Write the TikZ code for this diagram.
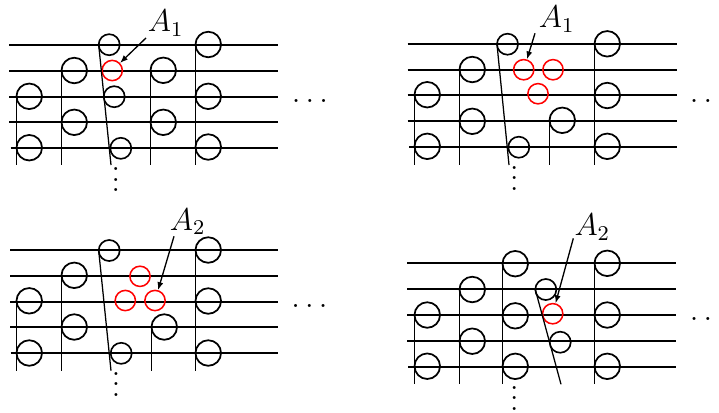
\documentclass[tikz,border=0pt]{standalone}
\usetikzlibrary{arrows.meta,calc}
\newcommand{\myvdots}{\vbox{\baselineskip4pt\lineskiplimit0pt\hbox{.}\hbox{.}\hbox{.}}}
\begin{document}
\begin{tikzpicture}[x=0.38pt,y=-0.38pt,
  staff/.style={line width=0.76pt},
  stem/.style={line width=0.5pt},
  slant/.style={line width=0.48pt},
  big/.style={circle,draw,line width=0.66pt,minimum size=9.7pt,inner sep=0pt,outer sep=0pt},
  small/.style={circle,draw,line width=0.62pt,minimum size=8pt,inner sep=0pt,outer sep=0pt},
  hit/.style={circle,draw=red,line width=0.58pt,minimum size=7.7pt,inner sep=0pt},
  lab/.style={inner sep=0pt,font=\fontsize{11.7}{14}\selectfont},
  dotsnode/.style={inner sep=0pt,font=\fontsize{11.7}{14}\selectfont},
  arr/.style={-{Latex[length=3pt,width=2.3pt]},line width=0.5pt}]
\useasboundingbox (0,0) rectangle (719,412);

% ---------------- Panel 1 ----------------
\foreach \k in {0,1,2,3} \draw[staff] (9,{45+25.8*\k}) -- (278,{45+25.8*\k});
\draw[staff] (10.7,148.2) -- (278,148.2);
\node[big] (p1a1) at (29.26,96.3) {};
\node[big] (p1a2) at (29.26,147.7) {};
\node[big] (p1b1) at (74.26,70.5) {};
\node[big] (p1b2) at (74.26,122.3) {};
\node[small] (p1c1) at (109.2,44.7) {};
\node[hit] (p1r1) at (112.2,70.5) {};
\node[small] (p1c2) at (114.2,96.7) {};
\node[small] (p1c3) at (120.8,148.3) {};
\node[big] (p1d1) at (163.26,70.3) {};
\node[big] (p1d2) at (163.26,122.3) {};
\node[big] (p1e1) at (208.26,44.5) {};
\node[big] (p1e2) at (208.26,96.3) {};
\node[big] (p1e3) at (208.26,147) {};
\coordinate (p1bot) at (0,165);
\coordinate (p1send) at (111,165);
\foreach \n in {p1a1,p1b1,p1d1,p1e1} \draw[stem] (\n.west) -- (\n.west |- p1bot);
\draw[slant] (p1c1.west) -- (p1send);
\node[dotsnode,anchor=south] (p1vd) at (115.7,192.3) {\myvdots};
\node[dotsnode] (p1hd) at (310,101) {$\ldots$};
\node[lab,anchor=base west] (p1L) at (147.3,31.7) {$A_1$};
\draw[arr] ($(p1L.south west)+(-1.3,1)$) -- (p1r1);

% ---------------- Panel 2 ----------------
\foreach \k in {0,1,2,3} \draw[staff] (407.7,{43.8+25.75*\k}) -- (676.7,{43.8+25.75*\k});
\draw[staff] (409,146.8) -- (676.7,146.8);
\node[big] (p2a1) at (427.26,94.7) {};
\node[big] (p2a2) at (427.26,146.3) {};
\node[big] (p2b1) at (472.26,69.5) {};
\node[big] (p2b2) at (472.26,121.3) {};
\node[small] (p2c1) at (507.5,44.2) {};
\node[small] (p2c3) at (518.8,147.2) {};
\node[hit] (p2r1) at (523.7,69.7) {};
\node[hit] (p2r2) at (553,69.7) {};
\node[hit] (p2r3) at (538,93.7) {};
\node[big] (p2d1) at (562.26,120.3) {};
\node[big] (p2e1) at (607.26,43.8) {};
\node[big] (p2e2) at (607.26,95.5) {};
\node[big] (p2e3) at (607.26,146.3) {};
\coordinate (p2bot) at (0,165);
\coordinate (p2send) at (509,165);
\foreach \n in {p2a1,p2b1,p2d1,p2e1} \draw[stem] (\n.west) -- (\n.west |- p2bot);
\draw[slant] (p2c1.west) -- (p2send);
\node[dotsnode,anchor=south] (p2vd) at (514.3,190.9) {\myvdots};
\node[dotsnode] (p2hd) at (708,101) {$\ldots$};
\node[lab,anchor=base west] (p2L) at (538.3,27.5) {$A_1$};
\draw[arr] ($(p2L.south west)+(-3.3,0.5)$) -- (p2r1);

% ---------------- Panel 3 ----------------
\foreach \k in {0,1,2,3} \draw[staff] (10,{250+25.75*\k}) -- (278,{250+25.75*\k});
\draw[staff] (10.7,353) -- (278,353);
\node[big] (p3a1) at (29.26,300.8) {};
\node[big] (p3a2) at (29.26,353) {};
\node[big] (p3b1) at (74.26,275.3) {};
\node[big] (p3b2) at (74.26,327) {};
\node[small] (p3c1) at (109.2,250.5) {};
\node[small] (p3c3) at (121.2,353.3) {};
\node[hit] (p3r1) at (140,276.3) {};
\node[hit] (p3r2) at (125.3,300.5) {};
\node[hit] (p3r3) at (155,300.5) {};
\node[big] (p3d1) at (164.26,327) {};
\node[big] (p3e1) at (208.26,250) {};
\node[big] (p3e2) at (208.26,301) {};
\node[big] (p3e3) at (208.26,353) {};
\coordinate (p3bot) at (0,370.7);
\coordinate (p3send) at (111,370.7);
\foreach \n in {p3a1,p3b1,p3d1,p3e1} \draw[stem] (\n.west) -- (\n.west |- p3bot);
\draw[slant] (p3c1.west) -- (p3send);
\node[dotsnode,anchor=south] (p3vd) at (116,396.6) {\myvdots};
\node[dotsnode] (p3hd) at (309.5,305.7) {$\ldots$};
\node[lab,anchor=base west] (p3L) at (169.3,230) {$A_2$};
\draw[arr] ($(p3L.south west)+(4.7,1)$) -- (p3r3);

% ---------------- Panel 4 ----------------
\foreach \k in {0,1,2,3} \draw[staff] (407,{263.3+25.8*\k}) -- (676,{263.3+25.8*\k});
\draw[staff] (408,366.5) -- (676,366.5);
\node[big] (p4a1) at (427.26,315) {};
\node[big] (p4a2) at (427.26,366.2) {};
\node[big] (p4b1) at (472.26,289.5) {};
\node[big] (p4b2) at (472.26,341.2) {};
\node[big] (p4c1) at (515.26,263.7) {};
\node[big] (p4c2) at (515.26,315.8) {};
\node[big] (p4c3) at (515.26,366.3) {};
\node[small] (p4s1) at (545.8,289.5) {};
\node[hit] (p4r1) at (552.7,313.7) {};
\node[small] (p4s2) at (560.2,342.2) {};
\node[big] (p4e1) at (607.26,263.3) {};
\node[big] (p4e2) at (607.26,315) {};
\node[big] (p4e3) at (607.26,366.3) {};
\coordinate (p4bot) at (0,384);
\coordinate (p4send) at (561,384.3);
\foreach \n in {p4a1,p4b1,p4c1,p4e1} \draw[stem] (\n.west) -- (\n.west |- p4bot);
\draw[slant] (p4s1.west) -- (p4send);
\node[dotsnode,anchor=south] (p4vd) at (514.3,410.9) {\myvdots};
\node[dotsnode] (p4hd) at (708,319) {$\ldots$};
\node[lab,anchor=base west] (p4L) at (574,235.7) {$A_2$};
\draw[arr] ($(p4L.south west)+(-0.7,-2.6)$) -- (p4r1);
\end{tikzpicture}
\end{document}
